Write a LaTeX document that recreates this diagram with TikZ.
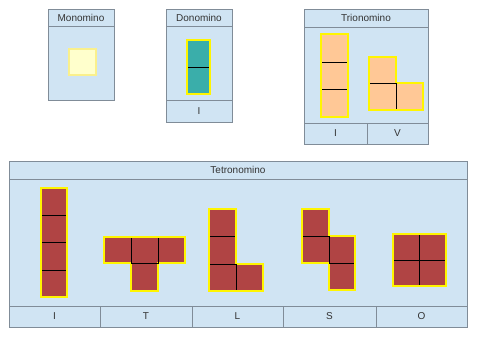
\documentclass[tikz,border=0pt]{standalone}
\usepackage{fontspec}
\setmainfont{Liberation Sans}
\usepackage{tikz}

\definecolor{panelblue}{RGB}{208,228,243}
\definecolor{panelgray}{RGB}{128,140,152}
\definecolor{monofill}{RGB}{255,255,204}
\definecolor{monoedge}{RGB}{250,240,140}
\definecolor{dofill}{RGB}{58,174,170}
\definecolor{trifill}{RGB}{255,200,150}
\definecolor{tetrafill}{RGB}{176,68,68}
\definecolor{tileedge}{RGB}{255,245,0}

\tikzset{
  panel/.style={fill=panelblue, draw=panelgray, line width=0.8pt},
  caption/.style={text=black!80, font=\fontsize{10}{12}\selectfont, inner sep=0pt},
  tile/.style={draw=tileedge, line width=2pt, line join=miter},
  seam/.style={draw=black, line width=0.9pt}
}

\begin{document}
\begin{tikzpicture}[x=1pt,y=-1pt]
\useasboundingbox (0,0) rectangle (480,360);

% Monomino
\draw[panel] (48,9) rectangle (114,100);
\draw[panel] (48,9) rectangle (114,26);
\node[caption] (monohead) at (81,17.5) {Monomino};
\draw[fill=monofill, draw=monoedge, line width=1.5pt] (69,49) rectangle (96,75);

% Donomino
\draw[panel] (166,9) rectangle (232,122);
\draw[panel] (166,9) rectangle (232,26);
\draw[panel] (166,100) rectangle (232,122);
\node[caption] (dohead) at (199,17.5) {Donomino};
\node[caption] (doI) at (199,111) {I};
\draw[tile, fill=dofill] (187,40) rectangle (210,94);
\draw[seam] (188,67) -- (209,67);

% Trionomino
\draw[panel] (304,9) rectangle (428,144);
\draw[panel] (304,9) rectangle (428,27);
\draw[panel] (304,123) rectangle (367,144);
\draw[panel] (367,123) rectangle (428,144);
\node[caption] (trihead) at (366,18) {Trionomino};
\node[caption] (triI) at (335.5,133.5) {I};
\node[caption] (triV) at (397.5,133.5) {V};
% I piece
\draw[tile, fill=trifill] (321,34) rectangle (348,117);
\foreach \y in {62,89}
  \draw[seam] (322,\y) -- (347,\y);
% V piece
\draw[tile, fill=trifill] (369,57) -- (396,57) -- (396,83) -- (423,83)
  -- (423,110) -- (369,110) -- cycle;
\draw[seam] (370,83) -- (396,83) -- (396,109);

% Tetronomino
\draw[panel] (9,161) rectangle (467,327);
\draw[panel] (9,161) rectangle (467,179);
\draw[panel] (9,306) rectangle (467,327);
\foreach \x in {100,192,283,376}
  \draw[panel] (\x,306) -- (\x,327);
\node[caption] (tetrahead) at (238,170) {Tetronomino};
\node[caption] (tetI) at (54.5,316.5) {I};
\node[caption] (tetT) at (146,316.5) {T};
\node[caption] (tetL) at (237.5,316.5) {L};
\node[caption] (tetS) at (329.5,316.5) {S};
\node[caption] (tetO) at (421.5,316.5) {O};
% I piece
\draw[tile, fill=tetrafill] (41,188) rectangle (67,297);
\foreach \y in {215,242,270}
  \draw[seam] (42,\y) -- (66,\y);
% T piece
\draw[tile, fill=tetrafill] (104,237) -- (185,237) -- (185,263) -- (158,263)
  -- (158,291) -- (131,291) -- (131,263) -- (104,263) -- cycle;
\draw[seam] (131,238) -- (131,263) -- (158,263) -- (158,238);
% L piece
\draw[tile, fill=tetrafill] (209,209) -- (236,209) -- (236,264) -- (263,264)
  -- (263,291) -- (209,291) -- cycle;
\draw[seam] (210,236) -- (235,236);
\draw[seam] (210,264) -- (236,264) -- (236,290);
% S piece
\draw[tile, fill=tetrafill] (302,209) -- (329,209) -- (329,236) -- (355,236)
  -- (355,290) -- (329,290) -- (329,263) -- (302,263) -- cycle;
\draw[seam] (303,236) -- (329,236) -- (329,263) -- (354,263);
% O piece
\draw[tile, fill=tetrafill] (393,234) rectangle (446,286);
\draw[seam] (419.5,235) -- (419.5,285);
\draw[seam] (394,260) -- (445,260);
\end{tikzpicture}
\end{document}
